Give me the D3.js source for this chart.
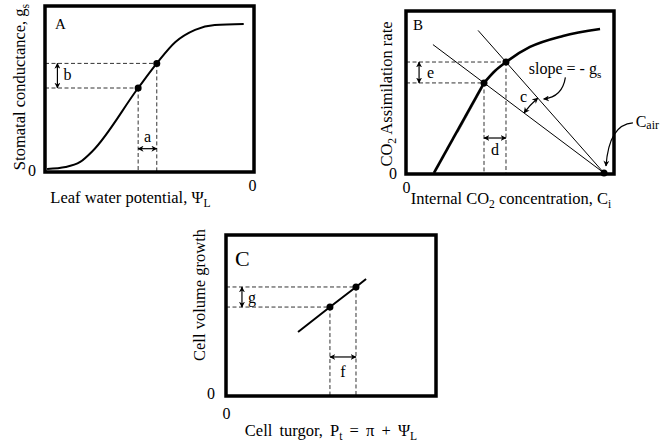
<!DOCTYPE html>
<html><head><meta charset="utf-8">
<script src="https://cdn.jsdelivr.net/npm/d3@7"></script>
<style>
body{margin:0;background:#fff}
text{font-family:"Liberation Serif","Times New Roman",serif;fill:#000}
</style>
</head><body>
<svg id="chart" width="672" height="441"></svg>
<script>
// ---------- DATA ----------
// Panel A: stomatal conductance vs leaf water potential
const aLeafPsi = [-99, -90, -83, -77, -55, -46, -37, -27.5, -18, -4];
const aCond    = [0.6, 1.8, 4.9, 11.6, 50, 65, 78, 85.4, 88.4, 89];
const aMarked  = [4, 5];
const aTickX = ["0"], aTickY = ["0"];
// Panel B: CO2 assimilation vs internal CO2
const bCi   = [14.1, 39.4, 44.9, 50.5, 62.6, 79.3, 98];
const bAssim = [0, 55.6, 63, 68.5, 77.8, 84.6, 88.9];
const bMarked = [1, 3];
const bCair = [100, 0];
const bSupplyStartX = [13.6, 36.4];   // start x of the two supply lines (they end at Cair)
const bTickX = ["0"], bTickY = ["0"];
// Panel C: cell volume growth vs turgor
const cTurgor = [34.3, 49.5, 61.9, 66.7];
const cGrowth = [38.6, 54.4, 67.1, 72.2];
const cMarked = [1, 2];
const cTickX = ["0"], cTickY = ["0"];

// ---------- SETUP ----------
const svg = d3.select("#chart");
const FONT = '"Liberation Serif","Times New Roman",serif';
const defs = svg.append("defs");
defs.append("marker").attr("id","ah").attr("viewBox","0 0 10 10")
  .attr("refX",9).attr("refY",5).attr("markerWidth",6).attr("markerHeight",6)
  .attr("markerUnits","userSpaceOnUse").attr("orient","auto-start-reverse")
  .append("path").attr("d","M0,0 L10,5 L0,10 L3,5 Z").attr("fill","#000");

function frame(box){
  svg.append("rect").attr("x",box[0]).attr("y",box[1])
    .attr("width",box[2]-box[0]).attr("height",box[3]-box[1])
    .attr("fill","none").attr("stroke","#000").attr("stroke-width",3.5);
}
function dashed(g, pts){
  g.append("path").attr("d", d3.line()(pts)).attr("fill","none")
    .attr("stroke","#333").attr("stroke-width",1).attr("stroke-dasharray","4,2.5");
}
function dbl(g, p1, p2){
  g.append("line").attr("x1",p1[0]).attr("y1",p1[1]).attr("x2",p2[0]).attr("y2",p2[1])
    .attr("stroke","#000").attr("stroke-width",1.2)
    .attr("marker-start","url(#ah)").attr("marker-end","url(#ah)");
}
function label(g, x, y, t, size, anchor){
  return g.append("text").attr("x",x).attr("y",y).attr("font-size",size||16)
    .attr("text-anchor",anchor||"start").text(t);
}
function styleAxis(a){
  a.select(".domain").remove();
  a.attr("font-family",FONT).attr("font-size",16);
  a.selectAll("text").attr("fill","#000");
}
function subText(sel, parts){ // parts: [text, isSub, dy]
  parts.forEach(p=>{
    if(p[1]) sel.append("tspan").attr("font-size","0.7em").attr("dy",4).text(p[0]);
    else sel.append("tspan").attr("dy", p[2]||0).text(p[0]);
  });
}

// ---------- PANEL A ----------
{
  const g = svg.append("g");
  const box = [45, 6, 254, 172];
  const x = d3.scaleLinear().domain([-100, 0]).range([45, 252]);
  const y = d3.scaleLinear().domain([0, 100]).range([170, 6]);
  const data = aLeafPsi.map((v,i)=>[v, aCond[i]]);
  const m = aMarked.map(i=>data[i]);
  m.forEach(p=>{
    dashed(g, [[x(-100), y(p[1])],[x(p[0]), y(p[1])]]);
    dashed(g, [[x(p[0]), y(p[1])],[x(p[0]), box[3]]]);
  });
  g.append("path").attr("d", d3.line().x(d=>x(d[0])).y(d=>y(d[1])).curve(d3.curveMonotoneX)(data))
    .attr("fill","none").attr("stroke","#000").attr("stroke-width",2);
  g.selectAll("circle").data(m).join("circle").attr("cx",d=>x(d[0])).attr("cy",d=>y(d[1])).attr("r",3.5).attr("fill","#000");
  const bx = x(-94);
  dbl(g, [bx, y(m[1][1])], [bx, y(m[0][1])]);
  label(g, bx+6, y(m[0][1])-8, "b");
  const ay = y(13);
  dbl(g, [x(m[0][0]), ay], [x(m[1][0]), ay]);
  label(g, (x(m[0][0])+x(m[1][0]))/2, ay-7, "a", 16, "middle");
  frame(box);
  label(g, 55, 29, "A", 15);
  g.append("g").attr("transform",`translate(0,${box[3]})`)
    .call(d3.axisBottom(x).tickValues([0]).tickFormat((d,i)=>aTickX[i]).tickSize(0).tickPadding(8)).call(styleAxis);
  g.append("g").attr("transform",`translate(${box[0]},0)`)
    .call(d3.axisLeft(y).tickValues([0]).tickFormat((d,i)=>aTickY[i]).tickSize(0).tickPadding(9)).call(styleAxis);
  const xl = g.append("text").attr("x",130.5).attr("y",203).attr("font-size",16.5).attr("text-anchor","middle");
  subText(xl, [["Leaf water potential, Ψ"],["L",true]]);
  const yl = g.append("text").attr("transform","translate(24.5,87) rotate(-90)").attr("font-size",16.5).attr("text-anchor","middle");
  subText(yl, [["Stomatal conductance, g"],["s",true]]);
}

// ---------- PANEL B ----------
{
  const g = svg.append("g");
  const box = [406, 11, 614, 174];
  const x = d3.scaleLinear().domain([0, 100]).range([406, 604]);
  const y = d3.scaleLinear().domain([0, 100]).range([173, 11]);
  const data = bCi.map((v,i)=>[v, bAssim[i]]);
  const m = bMarked.map(i=>data[i]);
  m.forEach(p=>{
    dashed(g, [[x(0), y(p[1])],[x(p[0]), y(p[1])]]);
    dashed(g, [[x(p[0]), y(p[1])],[x(p[0]), box[3]]]);
  });
  const C = [x(bCair[0]), y(bCair[1])];
  const lines = m.map((p,i)=>{
    const s = (bCair[1]-p[1])/(bCair[0]-p[0]);
    const x0 = bSupplyStartX[i];
    return [[x0, p[1] + s*(x0-p[0])], bCair];
  });
  lines.forEach(l=>{
    g.append("line").attr("x1",x(l[0][0])).attr("y1",y(l[0][1])).attr("x2",x(l[1][0])).attr("y2",y(l[1][1]))
      .attr("stroke","#000").attr("stroke-width",1);
  });
  // faint tangent along the initial linear part
  const t0 = data[0], t1 = data[1];
  g.append("line").attr("x1",x(t0[0]+ (t1[0]-t0[0])*0.45)+1.5).attr("y1",y(t0[1]+(t1[1]-t0[1])*0.45))
    .attr("x2",x(t1[0])+1.2).attr("y2",y(t1[1]))
    .attr("stroke","#999").attr("stroke-width",1);
  g.append("path").attr("d", d3.line().x(d=>x(d[0])).y(d=>y(d[1]))(data.slice(0,2)))
    .attr("fill","none").attr("stroke","#000").attr("stroke-width",2.6);
  g.append("path").attr("d", d3.line().x(d=>x(d[0])).y(d=>y(d[1])).curve(d3.curveMonotoneX)(data.slice(1)))
    .attr("fill","none").attr("stroke","#000").attr("stroke-width",2.6);
  g.selectAll("circle.m").data(m.concat([bCair])).join("circle").attr("cx",d=>x(d[0])).attr("cy",d=>y(d[1])).attr("r",3.5).attr("fill","#000");
  const ang = lines.map(l=>Math.atan2(y(l[0][1])-C[1], x(l[0][0])-C[0]));
  const r = 100;
  const P1 = [C[0]+r*Math.cos(ang[0]), C[1]+r*Math.sin(ang[0])];
  const P2 = [C[0]+r*Math.cos(ang[1]), C[1]+r*Math.sin(ang[1])];
  g.append("path").attr("d",`M${P1[0]},${P1[1]} A${r},${r} 0 0 1 ${P2[0]},${P2[1]}`)
    .attr("fill","none").attr("stroke","#000").attr("stroke-width",1.2)
    .attr("marker-start","url(#ah)").attr("marker-end","url(#ah)");
  label(g, P1[0]-4, P2[1]+4, "c");
  const ex = x(6.6);
  dbl(g, [ex, y(m[1][1])], [ex, y(m[0][1])]);
  label(g, ex+8, y(m[0][1])-5, "e");
  const dy = y(21.6);
  dbl(g, [x(m[0][0]), dy], [x(m[1][0]), dy]);
  label(g, (x(m[0][0])+x(m[1][0]))/2, dy+17, "d", 16, "middle");
  const sl = g.append("text").attr("x",x(62)).attr("y",y(61)).attr("font-size",16);
  subText(sl, [["slope = - g"],["s",true]]);
  const tipY = P2[1]+1, tipX = C[0] + (tipY-C[1])/Math.tan(ang[1]) + 5;
  g.append("path").attr("d",`M${x(80.5)},${y(59)} Q${x(79)},${tipY-2} ${tipX},${tipY}`)
    .attr("fill","none").attr("stroke","#000").attr("stroke-width",1.2).attr("marker-end","url(#ah)");
  const cl = g.append("text").attr("x",x(116)).attr("y",y(28.4)).attr("font-size",16);
  cl.append("tspan").text("C");
  cl.append("tspan").attr("font-size","0.75em").attr("dy",2).text("air");
  g.append("path").attr("d",`M${x(114.6)},${y(31)} Q${x(102.5)},${y(30)} ${C[0]+2},${C[1]-7}`)
    .attr("fill","none").attr("stroke","#000").attr("stroke-width",1.2).attr("marker-end","url(#ah)");
  frame(box);
  label(g, 413, 30, "B", 15);
  g.append("g").attr("transform",`translate(0,${box[3]})`)
    .call(d3.axisBottom(x).tickValues([0]).tickFormat((d,i)=>bTickX[i]).tickSize(0).tickPadding(8)).call(styleAxis);
  g.append("g").attr("transform",`translate(${box[0]},0)`)
    .call(d3.axisLeft(y).tickValues([0]).tickFormat((d,i)=>bTickY[i]).tickSize(0).tickPadding(9)).call(styleAxis);
  const xl = g.append("text").attr("x",511).attr("y",204).attr("font-size",16.5).attr("text-anchor","middle");
  subText(xl, [["Internal CO"],["2",true],[" concentration, C",false,-4],["i",true]]);
  const yl = g.append("text").attr("transform","translate(392,94) rotate(-90)").attr("font-size",16.5).attr("text-anchor","middle");
  subText(yl, [["CO"],["2",true],[" Assimilation rate",false,-4]]);
}

// ---------- PANEL C ----------
{
  const g = svg.append("g");
  const box = [226, 235, 436, 396];
  const x = d3.scaleLinear().domain([0, 100]).range([226, 436]);
  const y = d3.scaleLinear().domain([0, 100]).range([393, 235]);
  const data = cTurgor.map((v,i)=>[v, cGrowth[i]]);
  const m = cMarked.map(i=>data[i]);
  m.forEach(p=>{
    dashed(g, [[x(0), y(p[1])],[x(p[0]), y(p[1])]]);
    dashed(g, [[x(p[0]), y(p[1])],[x(p[0]), box[3]]]);
  });
  g.append("path").attr("d", d3.line().x(d=>x(d[0])).y(d=>y(d[1]))(data))
    .attr("fill","none").attr("stroke","#000").attr("stroke-width",2);
  g.selectAll("circle").data(m).join("circle").attr("cx",d=>x(d[0])).attr("cy",d=>y(d[1])).attr("r",3.5).attr("fill","#000");
  const gx = x(7.6);
  dbl(g, [gx, y(m[1][1])], [gx, y(m[0][1])]);
  label(g, gx+6, y(m[0][1])-4, "g");
  const fy = y(22.8);
  dbl(g, [x(m[0][0]), fy], [x(m[1][0]), fy]);
  label(g, (x(m[0][0])+x(m[1][0]))/2, fy+20, "f", 16, "middle");
  frame(box);
  label(g, 235, 266, "C", 22);
  g.append("g").attr("transform",`translate(0,${box[3]})`)
    .call(d3.axisBottom(x).tickValues([0]).tickFormat((d,i)=>cTickX[i]).tickSize(0).tickPadding(12)).call(styleAxis);
  g.append("g").attr("transform",`translate(${box[0]},0)`)
    .call(d3.axisLeft(y).tickValues([0]).tickFormat((d,i)=>cTickY[i]).tickSize(0).tickPadding(11)).call(styleAxis);
  const xl = g.append("text").attr("x",331).attr("y",436).attr("font-size",16.5).attr("text-anchor","middle").attr("word-spacing",3);
  subText(xl, [["Cell turgor, P"],["t",true],[" = π + Ψ",false,-4],["L",true]]);
  const yl = g.append("text").attr("transform","translate(205,295) rotate(-90)").attr("font-size",16.5).attr("text-anchor","middle");
  subText(yl, [["Cell volume growth"]]);
}
</script>
</body></html>
